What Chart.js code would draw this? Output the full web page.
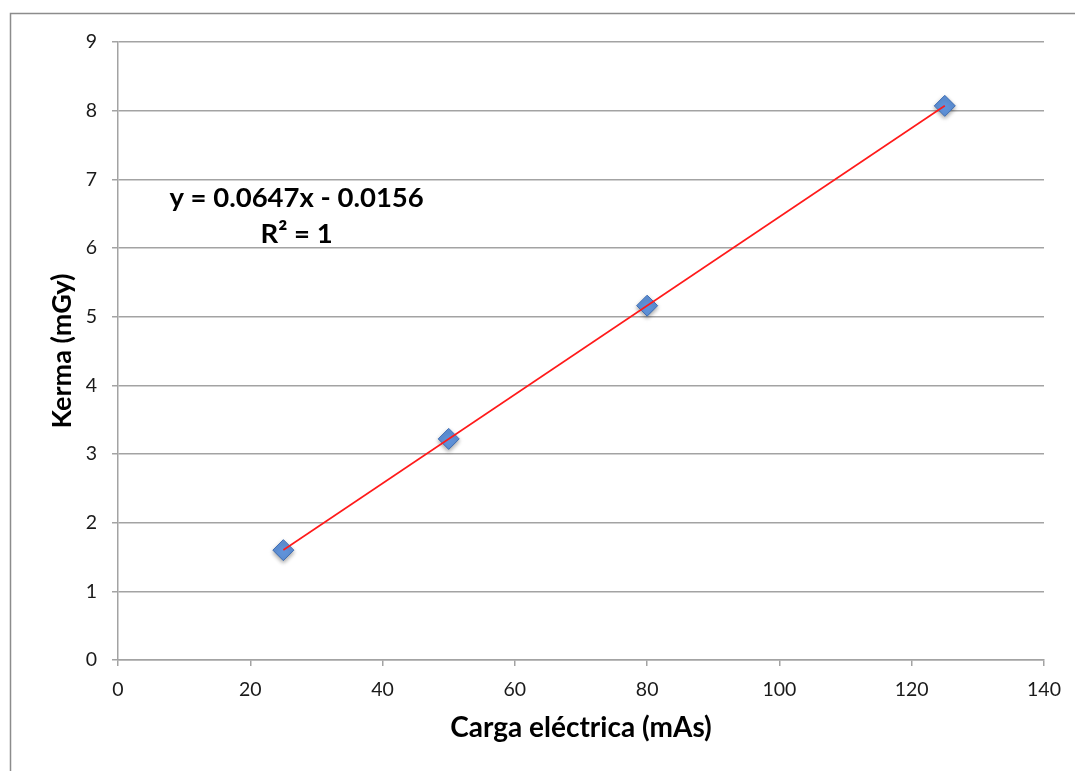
<!DOCTYPE html>
<html>
<head>
<meta charset="utf-8">
<script src="https://cdn.jsdelivr.net/npm/chart.js@4/dist/chart.umd.min.js"></script>
<style>
  html, body { margin: 0; padding: 0; background: #fff; }
  #wrap { width: 1075px; height: 771px; position: relative; }
</style>
</head>
<body>
<div id="wrap"><canvas id="c" width="1075" height="771"></canvas></div>
<script>
// ---- data ----
const chargeMAs = [25, 50, 80, 125];
const kermaMGy = [1.60, 3.22, 5.16, 8.07];
const trendX = [25, 125];
const trendY = [1.602, 8.072];
const xTicks = [0, 20, 40, 60, 80, 100, 120, 140];
const yTicks = [0, 1, 2, 3, 4, 5, 6, 7, 8, 9];
const xTitle = 'Carga eléctrica (mAs)';
const yTitle = 'Kerma (mGy)';
const equationLines = ['y = 0.0647x - 0.0156', 'R² = 1'];
const equationAnchorX = 27;
const equationAnchorY = [6.73, 6.2];

const FONT = 'Lato, "Open Sans", sans-serif';
const GRID = '#a3a3a3';

const framePlugin = {
  id: 'frame',
  beforeDraw(chart) {
    const ctx = chart.ctx;
    ctx.save();
    ctx.strokeStyle = '#8c8c8c';
    ctx.lineWidth = 1.5;
    ctx.beginPath();
    ctx.moveTo(10.5, chart.height + 5);
    ctx.lineTo(10.5, 13.5);
    ctx.lineTo(chart.width + 5, 13.5);
    ctx.stroke();
    ctx.restore();
  }
};

const shadowPlugin = {
  id: 'markerShadow',
  beforeDatasetDraw(chart, args) {
    if (args.index === 1) {
      const ctx = chart.ctx;
      ctx.save();
      ctx.shadowColor = 'rgba(0,0,0,0.35)';
      ctx.shadowBlur = 4;
      ctx.shadowOffsetX = 0;
      ctx.shadowOffsetY = 2;
    }
  },
  afterDatasetDraw(chart, args) {
    if (args.index === 1) chart.ctx.restore();
  }
};

const equationPlugin = {
  id: 'equation',
  afterDraw(chart) {
    const ctx = chart.ctx;
    const xs = chart.scales.x, ys = chart.scales.y;
    ctx.save();
    ctx.fillStyle = '#000';
    ctx.font = 'bold 27.5px ' + FONT;
    ctx.textAlign = 'center';
    ctx.textBaseline = 'middle';
    equationLines.forEach((t, i) => {
      ctx.fillText(t, xs.getPixelForValue(equationAnchorX), ys.getPixelForValue(equationAnchorY[i]));
    });
    ctx.restore();
  }
};

new Chart(document.getElementById('c'), {
  type: 'scatter',
  data: {
    datasets: [
      {
        label: 'Tendencia',
        data: trendX.map((x, i) => ({ x, y: trendY[i] })),
        showLine: true,
        borderColor: '#ff1a1a',
        borderWidth: 1.6,
        pointRadius: 0,
        fill: false,
        order: 0
      },
      {
        label: 'Kerma',
        data: chargeMAs.map((x, i) => ({ x, y: kermaMGy[i] })),
        pointStyle: 'rectRot',
        pointRadius: 10.5,
        pointHoverRadius: 10.5,
        backgroundColor: '#5f92d9',
        borderColor: '#3e6db3',
        borderWidth: 1,
        order: 1
      }
    ]
  },
  options: {
    responsive: false,
    animation: false,
    events: [],
    layout: { padding: { left: 0, top: 42, right: 31, bottom: 0 } },
    plugins: { legend: { display: false }, tooltip: { enabled: false } },
    scales: {
      x: {
        type: 'linear',
        min: 0, max: 140,
        afterBuildTicks(s) { s.ticks = xTicks.map(v => ({ value: v })); },
        afterFit(s) { s.height = 111; },
        grid: { drawOnChartArea: false, drawTicks: true, tickLength: 6, color: GRID, lineWidth: 1.5 },
        border: { display: true, color: GRID, width: 1.5 },
        ticks: { color: '#1a1a1a', font: { family: FONT, size: 19.5 }, padding: 12, maxRotation: 0 },
        title: { display: true, text: xTitle, color: '#000', font: { family: FONT, size: 28, weight: 'bold' }, padding: { top: 0, bottom: 26 } }
      },
      y: {
        type: 'linear',
        min: 0, max: 9,
        afterBuildTicks(s) { s.ticks = yTicks.map(v => ({ value: v })); },
        afterFit(s) { s.width = 118; },
        grid: { drawOnChartArea: true, drawTicks: true, tickLength: 6, color: GRID, lineWidth: 1.5 },
        border: { display: true, color: GRID, width: 1.5 },
        ticks: { color: '#1a1a1a', font: { family: FONT, size: 19.5 }, padding: 15 },
        title: { display: true, text: yTitle, color: '#000', font: { family: FONT, size: 27, weight: 'bold' }, padding: { top: 46, bottom: 0 } }
      }
    }
  },
  plugins: [framePlugin, shadowPlugin, equationPlugin]
});
</script>
</body>
</html>
